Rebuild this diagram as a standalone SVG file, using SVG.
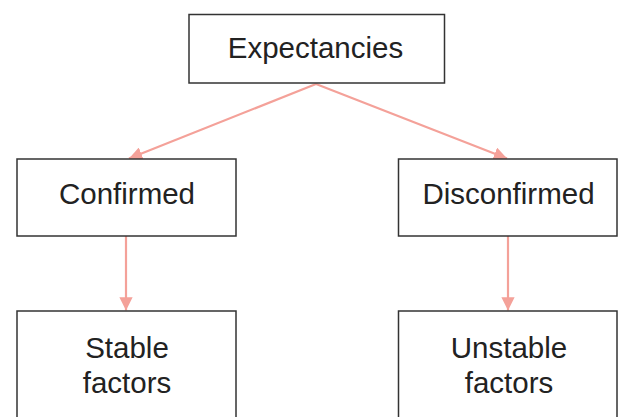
<svg xmlns="http://www.w3.org/2000/svg" width="619" height="417" viewBox="0 0 619 417">
<style>
.box{fill:#fff;stroke:#333;stroke-width:1.5}
.lbl{font-family:"Liberation Sans",Arial,sans-serif;font-size:29.5px;fill:#222;text-anchor:middle}
.con{stroke:#f4a199;stroke-width:2.2;fill:none}
</style>
<defs>
<marker id="ah" viewBox="0 0 10 10" refX="10" refY="5" markerWidth="6" markerHeight="6" markerUnits="strokeWidth" orient="auto">
<path d="M0,0 L10,5 L0,10 Z" fill="#f4a199"/>
</marker>
</defs>
<rect width="619" height="417" fill="#fff"/>
<g id="connectors">
<line class="con" x1="316" y1="84" x2="129" y2="158.5" marker-end="url(#ah)"/>
<line class="con" x1="316" y1="84" x2="507" y2="158.5" marker-end="url(#ah)"/>
<line class="con" x1="126" y1="236" x2="126" y2="310.5" marker-end="url(#ah)"/>
<line class="con" x1="508" y1="236" x2="508" y2="310.5" marker-end="url(#ah)"/>
</g>
<g id="expectancies">
<rect class="box" x="189" y="14.5" width="255.5" height="68.5"/>
<text class="lbl" x="315.5" y="58">Expectancies</text>
</g>
<g id="confirmed">
<rect class="box" x="17" y="159" width="219" height="77"/>
<text class="lbl" x="127" y="204">Confirmed</text>
</g>
<g id="disconfirmed">
<rect class="box" x="398.5" y="159" width="218.5" height="77"/>
<text class="lbl" x="508.5" y="204">Disconfirmed</text>
</g>
<g id="stable">
<rect class="box" x="17" y="311" width="219" height="120"/>
<text class="lbl" x="127" y="358">Stable</text>
<text class="lbl" x="127" y="393">factors</text>
</g>
<g id="unstable">
<rect class="box" x="398.5" y="311" width="218.5" height="120"/>
<text class="lbl" x="509" y="358">Unstable</text>
<text class="lbl" x="509" y="393">factors</text>
</g>
</svg>
